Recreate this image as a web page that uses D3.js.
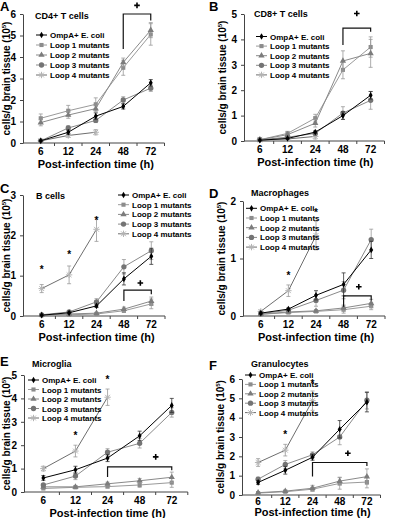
<!DOCTYPE html>
<html><head><meta charset="utf-8">
<script src="https://cdn.jsdelivr.net/npm/d3@7"></script>
<style>
body{margin:0;background:#fff}
svg{display:block}
text{font-family:"Liberation Sans",Arial,sans-serif;font-weight:bold;fill:#000}
</style>
</head><body>
<svg id="chart" width="416" height="518"></svg>
<script>
// ---------- DATA ----------
const timeLabels = ["6", "12", "24", "48", "72"];
const seriesNames = ["OmpA+ E. coli", "Loop 1 mutants", "Loop 2 mutants", "Loop 3 mutants", "Loop 4 mutants"];

// A: CD4+ T cells  (order: OmpA, Loop1, Loop2, Loop3, Loop4)
const cd4Ticks = [0, 1, 2, 3, 4, 5, 6];
const cd4Means = [
  [0.1, 0.5, 1.25, 1.7, 2.8],
  [1.15, 1.5, 1.8, 3.5, 5.05],
  [0.95, 1.3, 1.6, 3.75, 5.25],
  [0.1, 0.7, 1.05, 2.0, 2.55],
  [0.1, 0.35, 0.5, null, null]
];
const cd4Errors = [
  [0.03, 0.1, 0.15, 0.12, 0.15],
  [0.2, 0.25, 0.3, 0.35, 0.5],
  [0.15, 0.15, 0.15, 0.2, 0.35],
  [0.03, 0.1, 0.1, 0.15, 0.15],
  [0.03, 0.08, 0.12, null, null]
];

// B: CD8+ T cells
const cd8Ticks = [0, 1, 2, 3, 4, 5];
const cd8Means = [
  [0.03, 0.1, 0.35, 1.0, 1.8],
  [0.05, 0.3, 0.9, 2.8, 3.7],
  [0.05, 0.25, 0.7, 3.15, 3.45],
  [0.05, 0.15, 0.3, 1.1, 1.6],
  [0.05, 0.08, 0.18, null, null]
];
const cd8Errors = [
  [0.02, 0.03, 0.05, 0.15, 0.15],
  [0.05, 0.08, 0.15, 0.35, 0.4],
  [0.05, 0.06, 0.15, 0.4, 0.55],
  [0.03, 0.05, 0.08, 0.25, 0.35],
  [0.02, 0.03, 0.1, null, null]
];

// C: B cells
const bTicks = [0, 1, 2, 3];
const bMeans = [
  [0.02, 0.08, 0.25, 0.92, 1.48],
  [0.02, 0.03, 0.05, 0.13, 0.3],
  [0.02, 0.05, 0.07, 0.17, 0.37],
  [0.03, 0.1, 0.35, 1.22, 1.62],
  [0.68, 1.02, 2.15, null, null]
];
const bErrors = [
  [0.01, 0.02, 0.04, 0.15, 0.2],
  [0.01, 0.01, 0.02, 0.04, 0.12],
  [0.01, 0.02, 0.02, 0.05, 0.1],
  [0.02, 0.02, 0.08, 0.18, 0.22],
  [0.1, 0.22, 0.3, null, null]
];

// D: Macrophages
const macTicks = [0, 1, 2];
const macMeans = [
  [0.05, 0.12, 0.36, 0.55, 1.15],
  [0.03, 0.06, 0.08, 0.11, 0.17],
  [0.03, 0.07, 0.09, 0.14, 0.22],
  [0.04, 0.1, 0.27, 0.45, 1.33],
  [0.08, 0.44, 1.4, null, null]
];
const macErrors = [
  [0.02, 0.02, 0.08, 0.2, 0.15],
  [0.01, 0.01, 0.02, 0.06, 0.06],
  [0.01, 0.01, 0.02, 0.05, 0.07],
  [0.02, 0.02, 0.1, 0.15, 0.18],
  [0.02, 0.1, 0.25, null, null]
];

// E: Microglia
const micTicks = [0, 1, 2, 3, 4, 5];
const micMeans = [
  [0.6, 0.95, 1.45, 2.4, 3.7],
  [0.15, 0.2, 0.23, 0.3, 0.4],
  [0.22, 0.22, 0.35, 0.48, 0.63],
  [0.3, 0.68, 1.7, 2.08, 3.4],
  [1.0, 1.75, 4.05, null, null]
];
const micErrors = [
  [0.1, 0.15, 0.15, 0.2, 0.3],
  [0.03, 0.04, 0.05, 0.1, 0.2],
  [0.04, 0.05, 0.07, 0.1, 0.22],
  [0.05, 0.15, 0.15, 0.2, 0.2],
  [0.1, 0.25, 0.35, null, null]
];

// F: Granulocytes
const graTicks = [0, 1, 2, 3, 4, 5, 6];
const graMeans = [
  [0.65, 1.28, 1.95, 3.4, 4.8],
  [0.1, 0.17, 0.3, 0.6, 0.67],
  [0.12, 0.2, 0.35, 0.72, 0.95],
  [0.82, 1.58, 2.08, 3.0, 4.9],
  [1.68, 2.32, 4.88, null, null]
];
const graErrors = [
  [0.1, 0.2, 0.15, 0.45, 0.5],
  [0.03, 0.05, 0.1, 0.3, 0.3],
  [0.03, 0.05, 0.15, 0.2, 0.4],
  [0.1, 0.2, 0.15, 0.4, 0.45],
  [0.2, 0.3, 0.5, null, null]
];

// significance marks: asterisks [timeIndex, value]; bracket [fromIdx, toIdx, top, leftBottom, rightBottom, plusIdx, plusVal]
const bStars = [[0, 1.18], [1, 1.57], [2, 2.4]];
const macStars = [[1, 0.73], [2, 1.83]];
const micStars = [[1, 2.47], [2, 4.86]];
const graStars = [[1, 3.19], [2, 5.82]];
const cd4Bracket = [3, 4, 6.0, 4.37, 5.7, 3.5, 6.4];
const cd8Bracket = [3, 4, 4.44, 3.78, 4.3, 3.5, 5.02];
const bBracket = [3, 4, 0.64, 0.37, 0.54, 3.6, 0.82];
const macBracket = [3, 4, 0.35, 0.16, 0.27, 3.55, 0.51];
const micBracket = [2, 4, 1.07, 0.64, 0.93, 3.5, 1.5];
const graBracket = [2, 4, 1.68, 0.96, 1.5, 3.3, 2.16];

// ---------- STYLE ----------
const lineColors = ["#000", "#9a9a9a", "#8a8a8a", "#8a8a8a", "#6e6e6e"];
const markColors = ["#000", "#8c8c8c", "#7c7c7c", "#747474", "#b4b4b4"];
const markTypes = ["diamond", "square", "triangle", "circle", "star"];

const svg = d3.select("#chart");

function drawMarker(g, type, color, cx, cy) {
  if (type === "star") {
    const r = 3.2;
    const p = `M${cx - r},${cy}H${cx + r}M${cx},${cy - r}V${cy + r}` +
      `M${cx - r * .75},${cy - r * .75}L${cx + r * .75},${cy + r * .75}M${cx - r * .75},${cy + r * .75}L${cx + r * .75},${cy - r * .75}`;
    g.append("path").attr("d", p).attr("stroke", color).attr("stroke-width", 1).attr("fill", "none");
    return;
  }
  const sym = {diamond: d3.symbolDiamond, square: d3.symbolSquare, triangle: d3.symbolTriangle, circle: d3.symbolCircle}[type];
  const size = {diamond: 13, square: 17, triangle: 17, circle: 22}[type];
  g.append("path").attr("d", d3.symbol().type(sym).size(size)())
    .attr("transform", `translate(${cx},${cy})`).attr("fill", color);
}

function drawPanel(p) {
  const g = svg.append("g");
  const x = d3.scaleBand().domain(timeLabels).range([p.bx0, p.bx1]);
  const cx = i => x(timeLabels[i]) + x.bandwidth() / 2;
  const ymax = p.ticks[p.ticks.length - 1];
  const y = d3.scaleLinear().domain([0, ymax]).range([p.yBot, p.yTop]);

  // y axis
  const ya = g.append("g").attr("transform", `translate(${p.x0},0)`)
    .call(d3.axisLeft(y).tickValues(p.ticks).tickFormat(d3.format("d")).tickSize(3).tickSizeOuter(0).tickPadding(4));
  ya.selectAll("text").style("font-size", "10px");
  ya.select(".domain").attr("stroke", "#444");
  ya.selectAll(".tick line").attr("stroke", "#444");

  // x axis
  const xa = g.append("g").attr("transform", `translate(0,${p.yBot})`)
    .call(d3.axisBottom(x).tickSize(0).tickSizeOuter(0).tickPadding(p.tp));
  xa.selectAll("text").style("font-size", "10px");
  xa.select(".domain").remove();
  g.append("line").attr("x1", p.x0).attr("x2", p.bx1).attr("y1", p.yBot).attr("y2", p.yBot).attr("stroke", "#444");
  const edges = timeLabels.map(t => x(t)).concat([p.bx1]);
  g.selectAll(".xt").data(edges.slice(1)).enter().append("line")
    .attr("x1", d => d).attr("x2", d => d).attr("y1", p.yBot).attr("y2", p.yBot + 3).attr("stroke", "#444");

  // axis titles
  g.append("text").attr("x", (cx(0) + cx(4)) / 2).attr("y", p.yBot + p.tOff)
    .attr("text-anchor", "middle").style("font-size", "11px").text("Post-infection time (h)");
  const yl = g.append("text").attr("transform", `translate(${p.ylx},${(p.yTop + p.yBot) / 2}) rotate(-90)`)
    .attr("text-anchor", "middle").style("font-size", "10px");
  yl.append("tspan").text("cells/g brain tissue  (10");
  yl.append("tspan").attr("dy", -4).style("font-size", "6px").text("5");
  yl.append("tspan").attr("dy", 4).text(")");

  // panel letter & title
  g.append("text").attr("x", p.lx).attr("y", p.ly).style("font-size", "13px").text(p.letter);
  g.append("text").attr("x", p.tx).attr("y", p.ty).style("font-size", "9px").text(p.title);

  // series (light first, OmpA last)
  const order = [4, 1, 2, 3, 0];
  order.forEach(s => {
    const m = p.means[s], e = p.errs[s];
    const pts = m.map((v, j) => v == null ? null : [cx(j), y(v)]);
    g.append("path")
      .attr("d", d3.line().defined(d => d)(pts))
      .attr("fill", "none").attr("stroke", lineColors[s]).attr("stroke-width", 1);
    m.forEach((v, j) => {
      if (v == null) return;
      const x0 = cx(j), yt = y(v + e[j]), yb = y(Math.max(0, v - e[j]));
      const ec = s === 0 ? "#333" : "#999";
      g.append("path").attr("d", `M${x0},${yb}V${yt}M${x0 - 2},${yt}H${x0 + 2}M${x0 - 2},${yb}H${x0 + 2}`)
        .attr("stroke", ec).attr("stroke-width", 0.8).attr("fill", "none");
    });
    m.forEach((v, j) => { if (v != null) drawMarker(g, markTypes[s], markColors[s], cx(j), y(v)); });
  });

  // legend
  seriesNames.forEach((name, i) => {
    const yy = p.legY + i * p.legDy;
    g.append("line").attr("x1", p.legX).attr("x2", p.legX + 11).attr("y1", yy).attr("y2", yy)
      .attr("stroke", lineColors[i]).attr("stroke-width", 1);
    drawMarker(g, markTypes[i], markColors[i], p.legX + 5.5, yy);
    g.append("text").attr("x", p.legX + 14).attr("y", yy + 3).style("font-size", "8px").text(name);
  });

  // asterisks
  (p.stars || []).forEach(([j, v]) => {
    g.append("text").attr("x", cx(j)).attr("y", y(v) + 5).attr("text-anchor", "middle")
      .style("font-size", "10px").text("*");
  });

  // bracket with plus sign
  const b = p.bracket;
  const bx1 = cx(b[0]), bx2 = cx(b[1]);
  g.append("path").attr("d", `M${bx1},${y(b[3])}V${y(b[2])}H${bx2}V${y(b[4])}`)
    .attr("fill", "none").attr("stroke", "#111").attr("stroke-width", 1.2);
  const px = cx(3) + (b[5] - 3) * x.step(), py = y(b[6]);
  g.append("path").attr("d", `M${px - 2.8},${py}H${px + 2.8}M${px},${py - 2.8}V${py + 2.8}`)
    .attr("stroke", "#000").attr("stroke-width", 1.6).attr("fill", "none");
}

const panels = [
  {letter: "A", title: "CD4+ T cells", means: cd4Means, errs: cd4Errors, ticks: cd4Ticks, bracket: cd4Bracket,
   x0: 23, bx0: 27, bx1: 164.5, yTop: 14, yBot: 143, tp: 5, tOff: 25, ylx: 10, lx: 0, ly: 11, tx: 35, ty: 19, legX: 36, legY: 35, legDy: 10},
  {letter: "B", title: "CD8+ T cells", means: cd8Means, errs: cd8Errors, ticks: cd8Ticks, bracket: cd8Bracket,
   x0: 244, bx0: 246, bx1: 384.5, yTop: 14, yBot: 141, tp: 5, tOff: 25, ylx: 226, lx: 209, ly: 11, tx: 254, ty: 17, legX: 256, legY: 36.5, legDy: 9.6},
  {letter: "C", title: "B cells", means: bMeans, errs: bErrors, ticks: bTicks, bracket: bBracket, stars: bStars,
   x0: 23, bx0: 28, bx1: 165, yTop: 195, yBot: 316, tp: 5, tOff: 25, ylx: 10, lx: 0, ly: 193, tx: 36, ty: 199, legX: 118, legY: 195, legDy: 9.7},
  {letter: "D", title: "Macrophages", means: macMeans, errs: macErrors, ticks: macTicks, bracket: macBracket, stars: macStars,
   x0: 243, bx0: 247, bx1: 385, yTop: 201, yBot: 316, tp: 5, tOff: 25, ylx: 225, lx: 209, ly: 198, tx: 251, ty: 196, legX: 246, legY: 208.3, legDy: 9.7},
  {letter: "E", title: "Microglia", means: micMeans, errs: micErrors, ticks: micTicks, bracket: micBracket, stars: micStars,
   x0: 24, bx0: 27.3, bx1: 187.8, yTop: 375, yBot: 492, tp: 5, tOff: 25, ylx: 10, lx: 0, ly: 366, tx: 32, ty: 367, legX: 28, legY: 380, legDy: 9.5},
  {letter: "F", title: "Granulocytes", means: graMeans, errs: graErrors, ticks: graTicks, bracket: graBracket, stars: graStars,
   x0: 242, bx0: 244.5, bx1: 380.5, yTop: 379, yBot: 495, tp: 3, tOff: 21, ylx: 224, lx: 209, ly: 370, tx: 251, ty: 367, legX: 245, legY: 375, legDy: 9.4}
];
panels.forEach(drawPanel);
</script>
</body></html>
